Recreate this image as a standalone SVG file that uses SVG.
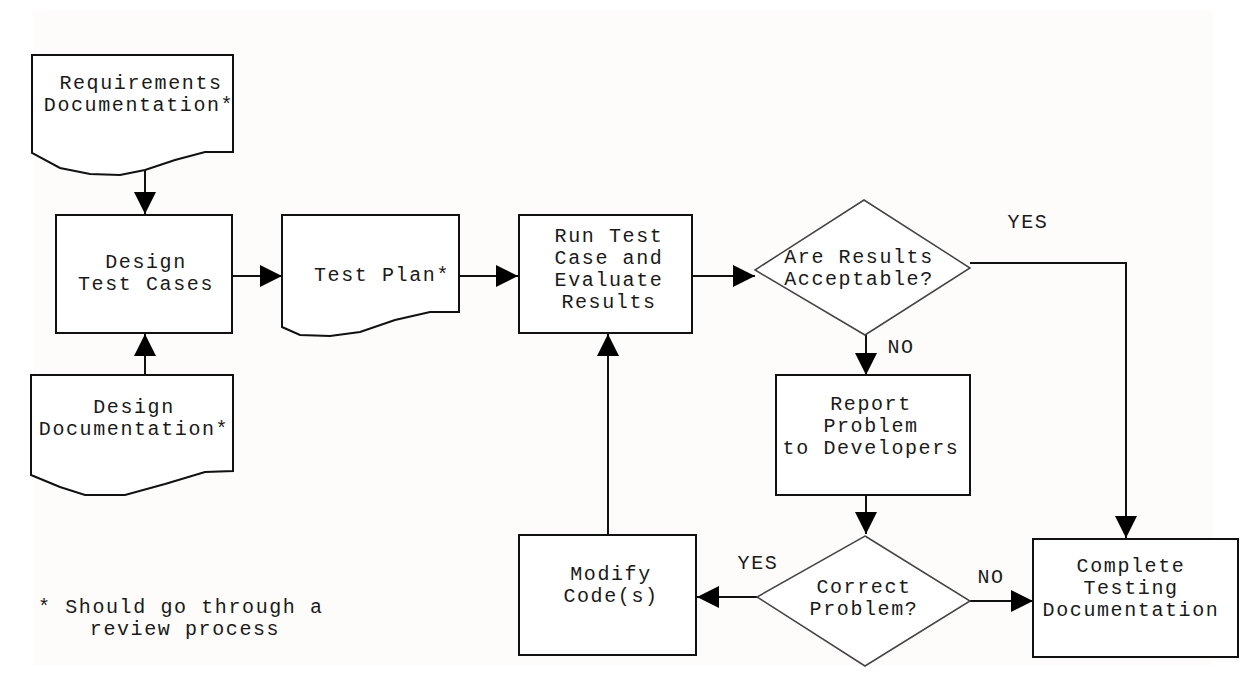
<svg xmlns="http://www.w3.org/2000/svg" width="1253" height="673" viewBox="0 0 1253 673">
  <style>
    .box { fill: #ffffff; stroke: #111; stroke-width: 2; }
    .dia { fill: #ffffff; stroke: #444; stroke-width: 1.5; }
    .lbl { font-family: "Liberation Mono", "Courier New", monospace; font-size: 20px; letter-spacing: 1.6px; fill: #1a1a1a; text-anchor: middle; }
    .edge { fill: none; stroke: #111; stroke-width: 2; }
  </style>
  <defs>
    <marker id="arrow" markerUnits="userSpaceOnUse" markerWidth="24" markerHeight="24" refX="22" refY="11" orient="auto">
      <path d="M0,0 L22,11 L0,22 Z" fill="#000"/>
    </marker>
  </defs>

  <rect x="0" y="0" width="1253" height="673" fill="#ffffff"/>
  <rect x="33" y="10" width="1180" height="655" fill="#fdfcfa"/>

  <!-- connectors -->
  <g id="connectors">
    <path class="edge" d="M145,170 V214" marker-end="url(#arrow)"/>
    <path class="edge" d="M145,375 V334" marker-end="url(#arrow)"/>
    <path class="edge" d="M232,276 H282" marker-end="url(#arrow)"/>
    <path class="edge" d="M459,276 H518" marker-end="url(#arrow)"/>
    <path class="edge" d="M692,276 H755" marker-end="url(#arrow)"/>
    <path class="edge" d="M970,263 H1126 V538" marker-end="url(#arrow)"/>
    <path class="edge" d="M866,335 V375" marker-end="url(#arrow)"/>
    <path class="edge" d="M866,495 V534" marker-end="url(#arrow)"/>
    <path class="edge" d="M757,597 H697" marker-end="url(#arrow)"/>
    <path class="edge" d="M608,535 V334" marker-end="url(#arrow)"/>
    <path class="edge" d="M970,601 H1033" marker-end="url(#arrow)"/>
    <text class="lbl" x="1028" y="228">YES</text>
    <text class="lbl" x="901" y="353">NO</text>
    <text class="lbl" x="758" y="569">YES</text>
    <text class="lbl" x="991" y="583">NO</text>
  </g>

  <!-- document: requirements -->
  <g id="requirements-doc">
    <path class="box" d="M32,55 H233 V152 L205,152 L175,160 L145,170 L120,175 L90,174 L60,168 L32,153 Z"/>
    <text class="lbl" x="141" y="89">Requirements</text>
    <text class="lbl" x="139" y="111">Documentation*</text>
  </g>

  <!-- process: design test cases -->
  <g id="design-test-cases">
    <rect class="box" x="56" y="215" width="176" height="118"/>
    <text class="lbl" x="146" y="268">Design</text>
    <text class="lbl" x="146" y="290">Test Cases</text>
  </g>

  <!-- document: design -->
  <g id="design-doc">
    <path class="box" d="M31,375 H233 V471 L205,472 L165,484 L125,495 L85,495 L60,487 L31,475 Z"/>
    <text class="lbl" x="134" y="413">Design</text>
    <text class="lbl" x="134" y="435">Documentation*</text>
  </g>

  <!-- document: test plan -->
  <g id="test-plan">
    <path class="box" d="M282,215 H459 V312 L430,312 L395,320 L360,332 L330,336 L300,335 L282,327 Z"/>
    <text class="lbl" x="382" y="281">Test Plan*</text>
  </g>

  <!-- process: run test -->
  <g id="run-test">
    <rect class="box" x="519" y="215" width="173" height="118"/>
    <text class="lbl" x="609" y="242">Run Test</text>
    <text class="lbl" x="609" y="264">Case and</text>
    <text class="lbl" x="609" y="286">Evaluate</text>
    <text class="lbl" x="609" y="308">Results</text>
  </g>

  <!-- decision: results acceptable -->
  <g id="results-acceptable">
    <path class="dia" d="M864,200 L970,268 L865,335 L755,270 Z"/>
    <text class="lbl" x="859" y="263">Are Results</text>
    <text class="lbl" x="859" y="285">Acceptable?</text>
  </g>

  <!-- process: report problem -->
  <g id="report-problem">
    <rect class="box" x="776" y="375" width="194" height="120"/>
    <text class="lbl" x="871" y="410">Report</text>
    <text class="lbl" x="871" y="432">Problem</text>
    <text class="lbl" x="871" y="454">to Developers</text>
  </g>

  <!-- decision: correct problem -->
  <g id="correct-problem">
    <path class="dia" d="M865,536 L970,601 L865,666 L757,597 Z"/>
    <text class="lbl" x="864" y="593">Correct</text>
    <text class="lbl" x="864" y="615">Problem?</text>
  </g>

  <!-- process: modify code -->
  <g id="modify-code">
    <rect class="box" x="519" y="535" width="177" height="120"/>
    <text class="lbl" x="611" y="580">Modify</text>
    <text class="lbl" x="611" y="602">Code(s)</text>
  </g>

  <!-- process: complete documentation -->
  <g id="complete-docs">
    <rect class="box" x="1033" y="539" width="205" height="118"/>
    <text class="lbl" x="1131" y="572">Complete</text>
    <text class="lbl" x="1131" y="594">Testing</text>
    <text class="lbl" x="1131" y="616">Documentation</text>
  </g>

  <!-- footnote -->
  <g id="footnote">
    <text class="lbl" x="38" y="613" style="text-anchor:start">* Should go through a</text>
    <text class="lbl" x="185" y="635">review process</text>
  </g>
</svg>
